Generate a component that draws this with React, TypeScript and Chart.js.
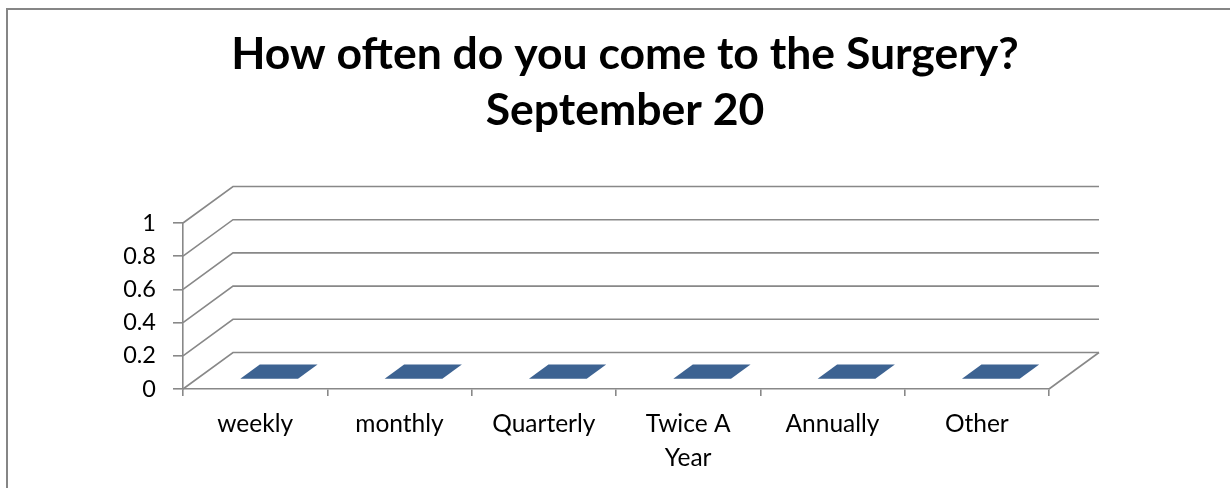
import { useEffect, useRef } from 'react';
import { Chart, registerables } from 'chart.js';

Chart.register(...registerables);

const titleLines = ['How often do you come to the Surgery?', 'September 20'];
const categories: (string | string[])[] = ['weekly', 'monthly', 'Quarterly', ['Twice A', 'Year'], 'Annually', 'Other'];
const responses = [0, 0, 0, 0, 0, 0];
const yTickLabels = ['0', '0.2', '0.4', '0.6', '0.8', '1'];
const yMin = 0;
const yMax = 1;
const yStep = 0.2;

const GRID = '#888888';
const DX = 50;
const DY = -36.5;

const threeD = {
  id: 'threeD',
  beforeDraw(chart: any) {
    const ctx = chart.ctx;
    ctx.save();
    ctx.strokeStyle = '#868686';
    ctx.lineWidth = 2;
    ctx.beginPath();
    ctx.moveTo(7, chart.height + 2);
    ctx.lineTo(7, 9);
    ctx.lineTo(chart.width + 2, 9);
    ctx.stroke();
    ctx.restore();
  },
  beforeDatasetsDraw(chart: any) {
    const { ctx, chartArea: a } = chart;
    const y = chart.scales.y;
    ctx.save();
    ctx.strokeStyle = GRID;
    ctx.lineWidth = 1.6;
    y.ticks.forEach((t: any) => {
      const py = y.getPixelForValue(t.value);
      ctx.beginPath();
      ctx.moveTo(a.left, py);
      ctx.lineTo(a.left + DX, py + DY);
      ctx.lineTo(a.right + DX, py + DY);
      ctx.stroke();
    });
    ctx.beginPath();
    ctx.moveTo(a.right, a.bottom);
    ctx.lineTo(a.right + DX, a.bottom + DY);
    ctx.stroke();

    const meta = chart.getDatasetMeta(0);
    const f1 = 0.28;
    const f2 = 0.67;
    meta.data.forEach((bar: any) => {
      const { x, y: top, base, width } = bar.getProps(['x', 'y', 'base', 'width'], true);
      const l = x - width / 2;
      const r = x + width / 2;
      const h = base - top;
      if (h > 0.5) {
        ctx.fillStyle = '#4F81BD';
        ctx.fillRect(l + f1 * DX, top + f1 * DY, width, h);
        ctx.fillStyle = '#385d8a';
        ctx.beginPath();
        ctx.moveTo(r + f1 * DX, top + f1 * DY);
        ctx.lineTo(r + f2 * DX, top + f2 * DY);
        ctx.lineTo(r + f2 * DX, base + f2 * DY);
        ctx.lineTo(r + f1 * DX, base + f1 * DY);
        ctx.closePath();
        ctx.fill();
      }
      ctx.fillStyle = '#3d6392';
      ctx.beginPath();
      ctx.moveTo(l + f1 * DX, top + f1 * DY);
      ctx.lineTo(r + f1 * DX, top + f1 * DY);
      ctx.lineTo(r + f2 * DX, top + f2 * DY);
      ctx.lineTo(l + f2 * DX, top + f2 * DY);
      ctx.closePath();
      ctx.fill();
    });
    ctx.restore();
  },
};

export default function App() {
  const ref = useRef<HTMLCanvasElement>(null);
  useEffect(() => {
    if (!ref.current) return;
    Chart.defaults.font.family = 'Lato';
    const chart = new Chart(ref.current, {
      type: 'bar',
      data: {
        labels: categories,
        datasets: [
          {
            data: responses,
            backgroundColor: 'rgba(0,0,0,0)',
            borderWidth: 0,
            categoryPercentage: 1,
            barPercentage: 0.4,
          },
        ],
      },
      options: {
        animation: false,
        responsive: false,
        devicePixelRatio: 1,
        layout: { padding: { left: 20, right: 0, top: 0, bottom: 0 } },
        plugins: {
          legend: { display: false },
          tooltip: { enabled: false },
          title: {
            display: true,
            text: titleLines,
            color: '#000',
            font: { family: 'Lato', size: 44.5, weight: 'bold', lineHeight: '56px' },
            padding: { top: 27, bottom: 84 },
          },
        },
        scales: {
          x: {
            grid: { offset: true, drawOnChartArea: false, tickLength: 7, color: GRID, lineWidth: 1.6 },
            border: { color: GRID, width: 1.6 },
            ticks: {
              color: '#000',
              padding: 11,
              maxRotation: 0,
              autoSkip: false,
              font: { size: 24.5, lineHeight: '34px' },
            },
            afterFit(s: any) {
              s.height = 99;
            },
          },
          y: {
            min: yMin,
            max: yMax,
            grid: { drawOnChartArea: false, tickLength: 10, color: GRID, lineWidth: 1.6 },
            border: { color: GRID, width: 1.6 },
            ticks: {
              stepSize: yStep,
              color: '#000',
              padding: 17,
              font: { size: 23.5 },
              callback: (_v: any, i: number) => yTickLabels[i],
            },
            afterFit(s: any) {
              s.width = 163;
            },
          },
          y2: {
            position: 'right',
            grid: { display: false },
            border: { display: false },
            ticks: { display: false },
            afterFit(s: any) {
              s.width = 181;
            },
          },
        },
      },
      plugins: [threeD],
    } as any);
    return () => chart.destroy();
  }, []);
  return (
    <div style={{ position: 'fixed', left: 0, top: 0, width: 1230, height: 488, background: '#fff' }}>
      <canvas ref={ref} width={1230} height={488} style={{ display: 'block' }} />
    </div>
  );
}
